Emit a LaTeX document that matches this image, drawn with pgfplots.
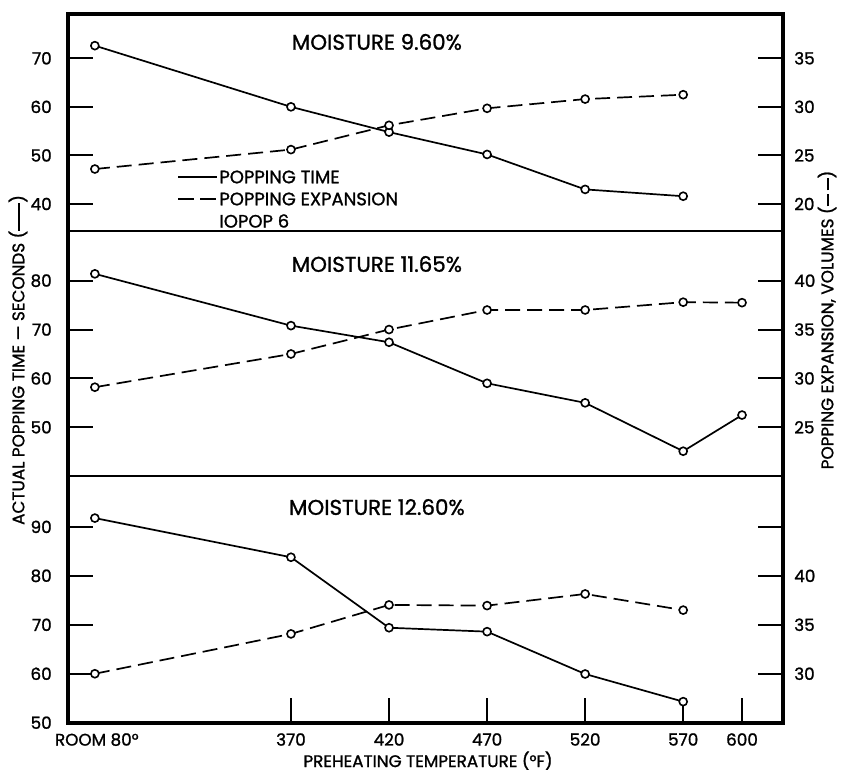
\documentclass[border=0pt]{standalone}
\usepackage{pgfplots}
\pgfplotsset{compat=1.18}
\usepackage{fontspec}
\setmainfont{Poppins}[FakeBold=1.2]
\begin{document}
\begin{tikzpicture}
\pgfplotsset{
  panel/.style={
    scale only axis, width=357.5pt, xmin=256.3, xmax=620.9,
    anchor=south west, clip=false,
    axis line style={line width=1pt},
    tick style={line width=1pt, black},
    major tick length=12.5pt, tick align=inside,
    ticklabel style={font=\fontsize{8.4}{10}\selectfont},
    /pgf/number format/assume math mode=true,
  },
  lefty/.style={panel, ytick pos=left, yticklabel style={xshift=-4.6pt}},
  righty/.style={panel, axis y line*=right, axis x line=none, yticklabel style={xshift=2.1pt}},
  time/.style={black, line width=0.85pt, mark=*, mark size=2pt, mark options={solid, fill=white, line width=0.8pt}},
  expn/.style={time, dash pattern=on 7.5pt off 3.5pt},
}
\path[use as bounding box] (0,0) rectangle (420.5pt,385pt);
% ---------- top panel ----------
\begin{axis}[lefty, at={(34pt,269.5pt)}, height=108.5pt, ymin=34.44, ymax=79.12, ytick={40,50,60,70}, xtick=\empty]
\addplot[time] coordinates {(270,72.6) (370,60.0) (420,54.8) (470,50.2) (520,43.0) (570,41.6)};
\node[font=\fontsize{10.7}{12}\selectfont] at (rel axis cs:0.432,0.871) {MOISTURE 9.60\%};
\end{axis}
\begin{axis}[righty, at={(34pt,269.5pt)}, height=108.5pt, ymin=17.22, ymax=39.56, ytick={20,25,30,35}]
\addplot[expn] coordinates {(270,23.6) (370,25.6) (420,28.1) (470,29.85) (520,30.8) (570,31.25)};
\end{axis}
% ---------- middle panel ----------
\begin{axis}[lefty, at={(34pt,147pt)}, height=122.5pt, ymin=40.03, ymax=90.17, ytick={50,60,70,80}, xtick=\empty]
\addplot[time] coordinates {(270,81.4) (370,70.8) (420,67.4) (470,59.0) (520,55.0) (570,45.1) (600,52.5)};
\node[font=\fontsize{10.7}{12}\selectfont] at (rel axis cs:0.432,0.865) {MOISTURE 11.65\%};
\end{axis}
\begin{axis}[righty, at={(34pt,147pt)}, height=122.5pt, ymin=20.015, ymax=45.085, ytick={25,30,35,40}]
\addplot[expn] coordinates {(270,29.1) (370,32.5) (420,35.0) (470,37.0) (520,37.0) (570,37.8) (600,37.75)};
\end{axis}
% ---------- bottom panel ----------
\begin{axis}[lefty, at={(34pt,23.5pt)}, height=123.5pt, ymin=49.94, ymax=100.4, ytick={50,60,70,80,90},
  xtick pos=bottom, xtick={370,420,470,520,570,600},
  xticklabel style={yshift=-1.6pt},
  extra x ticks={271}, extra x tick labels={ROOM 80°}, extra x tick style={major tick length=0pt}]
\addplot[time] coordinates {(270,91.8) (370,83.8) (420,69.4) (470,68.6) (520,59.95) (570,54.3)};
\node[font=\fontsize{10.7}{12}\selectfont] at (rel axis cs:0.432,0.874) {MOISTURE 12.60\%};
\end{axis}
\begin{axis}[righty, at={(34pt,23.5pt)}, height=123.5pt, ymin=24.97, ymax=50.2, ytick={30,35,40,45}, yticklabels={30,35,40,{}}]
\addplot[expn] coordinates {(270,30.0) (370,34.07) (420,37.03) (470,36.96) (520,38.15) (570,36.5)};
\end{axis}
% ---------- frame ----------
\draw[line width=1.75pt] (34pt,23.5pt) rectangle (391.5pt,378pt);
% ---------- legend ----------
\draw[line width=0.85pt] (89pt,296.5pt) -- (108.5pt,296.5pt);
\draw[line width=0.85pt, dash pattern=on 8pt off 3pt] (89pt,285.5pt) -- (108.5pt,285.5pt);
\node[anchor=west, inner sep=0pt, font=\fontsize{9}{10}\selectfont] at (109.5pt,296.5pt) {POPPING TIME};
\node[anchor=west, inner sep=0pt, font=\fontsize{9}{10}\selectfont] at (109.5pt,285.5pt) {POPPING EXPANSION};
\node[anchor=west, inner sep=0pt, font=\fontsize{9}{10}\selectfont] at (109.5pt,274.5pt) {IOPOP 6};
% ---------- axis titles ----------
\node[font=\fontsize{8.4}{10}\selectfont] at (214pt,4.6pt) {PREHEATING TEMPERATURE (°F)};
\node[rotate=90, font=\fontsize{8.4}{10}\selectfont] at (9pt,205pt) {ACTUAL POPPING TIME --- SECONDS (\rule[0.5ex]{14pt}{0.8pt})};
\node[rotate=90, font=\fontsize{8.4}{10}\selectfont] at (413.5pt,225pt) {POPPING EXPANSION, VOLUMES (\rule[0.5ex]{6pt}{0.8pt}\hspace{2pt}\rule[0.5ex]{6pt}{0.8pt})};
\end{tikzpicture}
\end{document}
